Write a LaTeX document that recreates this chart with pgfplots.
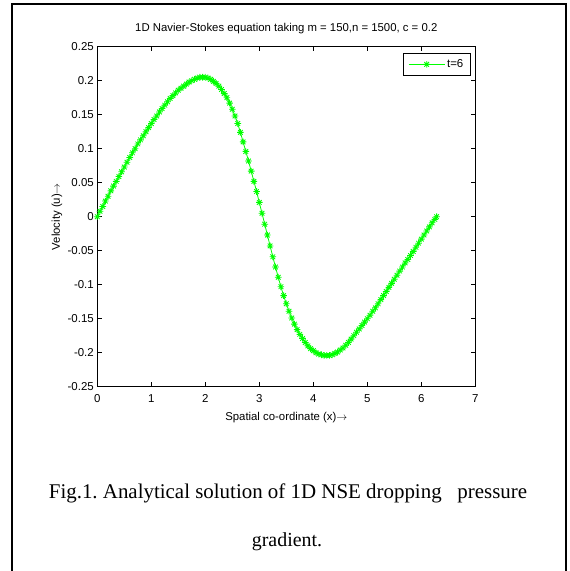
\documentclass[border=0pt]{standalone}
\usepackage{fontspec}
\setmainfont{Liberation Sans}
\newfontfamily\timesfont{Liberation Serif}
\usepackage{pgfplots}
\pgfplotsset{compat=1.18}
\usepackage{pgfplotstable}
\frenchspacing

\definecolor{mgreen}{rgb}{0,1,0}

\pgfdeclareplotmark{mstar}{%
  \pgfpathmoveto{\pgfqpoint{-\pgfplotmarksize}{0pt}}\pgfpathlineto{\pgfqpoint{\pgfplotmarksize}{0pt}}%
  \pgfpathmoveto{\pgfqpoint{0pt}{-\pgfplotmarksize}}\pgfpathlineto{\pgfqpoint{0pt}{\pgfplotmarksize}}%
  \pgfpathmoveto{\pgfqpoint{-.707\pgfplotmarksize}{-.707\pgfplotmarksize}}\pgfpathlineto{\pgfqpoint{.707\pgfplotmarksize}{.707\pgfplotmarksize}}%
  \pgfpathmoveto{\pgfqpoint{-.707\pgfplotmarksize}{.707\pgfplotmarksize}}\pgfpathlineto{\pgfqpoint{.707\pgfplotmarksize}{-.707\pgfplotmarksize}}%
  \pgfusepathqstroke}

\pgfplotstableread{
x u
0.00 0.000
0.05 0.008
0.10 0.015
0.15 0.023
0.20 0.030
0.25 0.038
0.30 0.045
0.35 0.052
0.40 0.059
0.45 0.066
0.50 0.073
0.55 0.080
0.60 0.087
0.65 0.094
0.70 0.100
0.75 0.107
0.80 0.113
0.85 0.119
0.90 0.125
0.95 0.131
1.00 0.137
1.05 0.143
1.10 0.148
1.15 0.154
1.20 0.159
1.25 0.164
1.30 0.169
1.35 0.174
1.40 0.178
1.45 0.182
1.50 0.186
1.55 0.189
1.60 0.192
1.65 0.195
1.70 0.198
1.75 0.200
1.80 0.202
1.85 0.204
1.90 0.205
1.95 0.205
2.00 0.205
2.05 0.204
2.10 0.202
2.15 0.199
2.20 0.196
2.25 0.192
2.30 0.187
2.35 0.181
2.40 0.175
2.45 0.167
2.50 0.158
2.55 0.148
2.60 0.137
2.65 0.124
2.70 0.110
2.75 0.096
2.80 0.082
2.85 0.067
2.90 0.052
2.95 0.037
3.00 0.021
3.05 0.005
3.10 -0.011
3.15 -0.027
3.20 -0.043
3.25 -0.059
3.30 -0.074
3.35 -0.089
3.40 -0.103
3.45 -0.116
3.50 -0.128
3.55 -0.139
3.60 -0.149
3.65 -0.158
3.70 -0.166
3.75 -0.173
3.80 -0.179
3.85 -0.185
3.90 -0.190
3.95 -0.194
4.00 -0.197
4.05 -0.200
4.10 -0.202
4.15 -0.203
4.20 -0.204
4.25 -0.204
4.30 -0.204
4.35 -0.203
4.40 -0.201
4.45 -0.199
4.50 -0.196
4.55 -0.193
4.60 -0.189
4.65 -0.185
4.70 -0.180
4.75 -0.175
4.80 -0.170
4.85 -0.165
4.90 -0.160
4.95 -0.155
5.00 -0.150
5.05 -0.145
5.10 -0.139
5.15 -0.134
5.20 -0.128
5.25 -0.122
5.30 -0.116
5.35 -0.110
5.40 -0.104
5.45 -0.098
5.50 -0.092
5.55 -0.086
5.60 -0.080
5.65 -0.074
5.70 -0.068
5.75 -0.063
5.80 -0.057
5.85 -0.051
5.90 -0.045
5.95 -0.039
6.00 -0.033
6.05 -0.027
6.10 -0.021
6.15 -0.015
6.20 -0.009
6.25 -0.004
6.283 0.000
}\datatable

\begin{document}
\begin{tikzpicture}
\begin{scope}[x=1bp,y=1bp,shift={(-97.3bp,-184.3bp)}]
\useasboundingbox (0,0) rectangle (570,571);
\draw[line width=2bp] (12.5,0) -- (12.5,567) -- (566,567) -- (566,0);
\node[font=\timesfont\fontsize{21}{24}\selectfont, anchor=base] at (288,73) {Fig.1. Analytical solution of 1D NSE dropping\ \ \ pressure};
\node[font=\timesfont\fontsize{20}{24}\selectfont, anchor=base] at (287,24.3) {gradient.};
\end{scope}
\begin{axis}[
  at={(0bp,0bp)}, anchor=south west,
  scale only axis, width=378bp, height=340bp,
  xmin=0, xmax=7, ymin=-0.25, ymax=0.25,
  xtick={0,1,2,3,4,5,6,7},
  xticklabels={0,1,2,3,4,5,6,7},
  ytick={-0.25,-0.2,-0.15,-0.1,-0.05,0,0.05,0.1,0.15,0.2,0.25},
  yticklabels={-0.25,-0.2,-0.15,-0.1,-0.05,0,0.05,0.1,0.15,0.2,0.25},
  xtick pos=both, ytick pos=both,
  tick align=inside,
  major tick length=4.5bp,
  every tick/.style={black, line width=0.8bp},
  axis line style={line width=1.1bp},
  /pgf/number format/assume math mode=true,
  tick label style={font=\fontsize{11.5}{13}\selectfont},
  xticklabel style={anchor=base, yshift=-15.7bp},
  title={1D Navier-Stokes equation taking m = 150,n = 1500, c = 0.2},
  title style={at={(axis description cs:0.5,1)}, anchor=base, yshift=9.7bp, inner sep=0pt, font=\fontsize{11.4}{13}\selectfont},
  xlabel={Spatial co-ordinate (x)$\rightarrow$},
  xlabel style={at={(axis description cs:0.5,0)}, anchor=base, yshift=-34bp, inner sep=0pt, font=\fontsize{11.4}{13}\selectfont},
  ylabel={Velocity (u)$\rightarrow$},
  ylabel style={at={(axis description cs:-0.1066,0.5)}, anchor=center, inner sep=0pt, font=\fontsize{11.4}{13}\selectfont},
  legend style={at={(axis description cs:1,1)}, anchor=north east, xshift=-4.6bp, yshift=-6.5bp,
    draw=black, line width=0.8bp, inner xsep=5bp, inner ysep=4bp,
    font=\fontsize{11.5}{13}\selectfont},
  legend cell align=left,
  legend image code/.code={\draw[#1, mark repeat=2, mark phase=2] plot coordinates {(0bp,0bp) (18bp,0bp) (36bp,0bp)};},
]
\addplot[color=mgreen, mark=mstar, mark size=3.3bp, line width=0.8bp, mark options={line width=0.85bp}] table[x=x,y=u] {\datatable};
\addlegendentry{t=6}
\end{axis}
\end{tikzpicture}
\end{document}
